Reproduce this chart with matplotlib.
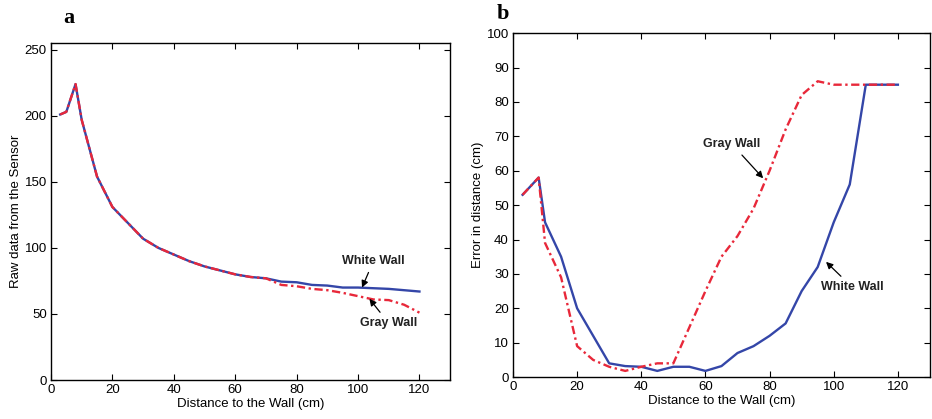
import matplotlib
matplotlib.use("Agg")
import matplotlib.pyplot as plt

plt.rcParams['font.family'] = ['Liberation Sans', 'DejaVu Sans']

# Panel a: raw sensor data
dist_a = [3, 5, 8, 10, 15, 20, 25, 30, 35, 40, 45, 50, 55, 60, 65, 70, 75, 80, 85, 90, 95, 100, 105, 110, 115, 120]
raw_white = [201, 203, 224, 197, 154, 131, 119, 107, 100, 95, 90, 86, 83, 80, 78, 77, 74.5, 74, 72, 71.5, 70, 70, 69.5, 69, 68, 67]
raw_gray = [201, 203, 224, 197, 154, 131, 119, 107, 100, 95, 90, 86, 83, 80, 78, 77, 72, 71, 69, 68, 66, 63.5, 61, 60.5, 57, 51]

# Panel b: error in distance
dist_b = [3, 8, 10, 15, 20, 25, 30, 35, 40, 45, 50, 55, 60, 65, 70, 75, 80, 85, 90, 95, 100, 105, 110, 115, 120]
err_white = [53, 58, 45, 35, 20, 12, 4, 3.2, 3, 1.8, 3, 3, 1.8, 3.2, 7, 9, 12, 15.6, 25, 32, 45, 56, 85, 85, 85]
err_gray = [53, 58, 39, 29, 9, 5, 3, 1.8, 3, 4, 4, 14.5, 25, 35, 41, 49, 60, 72, 82, 86, 85, 85, 85, 85, 85]

xticks = [0, 20, 40, 60, 80, 100, 120]
yticks_a = [0, 50, 100, 150, 200, 250]
yticks_b = list(range(0, 101, 10))

blue = '#3446a8'
red = '#e8283a'
dashdot = (3.5, 1.5, 1, 1.5)

fig = plt.figure(figsize=(9.32, 4.19), dpi=100)
ax1 = fig.add_axes([0.0547, 0.093, 0.4283, 0.804])
ax2 = fig.add_axes([0.5504, 0.100, 0.4474, 0.821])

for ax in (ax1, ax2):
    ax.tick_params(direction='in', top=True, right=True, length=4, width=0.8, labelsize=9.5, pad=3)
    for s in ax.spines.values():
        s.set_linewidth(1.0)
    ax.set_xlim(0, 130)
    ax.set_xticks(xticks)
    ax.set_xlabel('Distance to the Wall (cm)', fontsize=9.5, labelpad=1)

arrow = dict(arrowstyle='-|>', color='black', lw=0.9, mutation_scale=10, shrinkA=2, shrinkB=0)

ax1.plot(dist_a, raw_white, color=blue, lw=1.7, ls='-')
ax1.plot(dist_a, raw_gray, color=red, lw=1.7, ls='-.', dashes=dashdot)
ax1.set_ylim(0, 255)
ax1.set_yticks(yticks_a)
ax1.set_ylabel('Raw data from the Sensor', fontsize=9.5, labelpad=2)

ax1.annotate('White Wall', xy=(101.3, 70), xytext=(105, 90), fontsize=9, fontweight='bold',
             ha='center', va='center', color='#222222', arrowprops=arrow)
ax1.annotate('Gray Wall', xy=(103.7, 61.5), xytext=(110, 43), fontsize=9, fontweight='bold',
             ha='center', va='center', color='#222222', arrowprops=arrow)

ax2.plot(dist_b, err_white, color=blue, lw=1.7, ls='-')
ax2.plot(dist_b, err_gray, color=red, lw=1.7, ls='-.', dashes=dashdot)
ax2.set_ylim(0, 100)
ax2.set_yticks(yticks_b)
ax2.set_ylabel('Error in distance (cm)', fontsize=9.5, labelpad=2)

ax2.annotate('Gray Wall', xy=(78, 57.8), xytext=(68.3, 67.7), fontsize=9, fontweight='bold',
             ha='center', va='center', color='#222222', arrowprops=arrow)
ax2.annotate('White Wall', xy=(97.6, 33.5), xytext=(105.7, 26.2), fontsize=9, fontweight='bold',
             ha='center', va='center', color='#222222', arrowprops=arrow)

fig.text(63 / 932, 1 - 18 / 419, 'a', fontsize=16, fontweight='bold', family='Liberation Serif', ha='left', va='center')
fig.text(497 / 932, 1 - 14 / 419, 'b', fontsize=16, fontweight='bold', family='Liberation Serif', ha='left', va='center')

fig.savefig('out.png', dpi=100)
